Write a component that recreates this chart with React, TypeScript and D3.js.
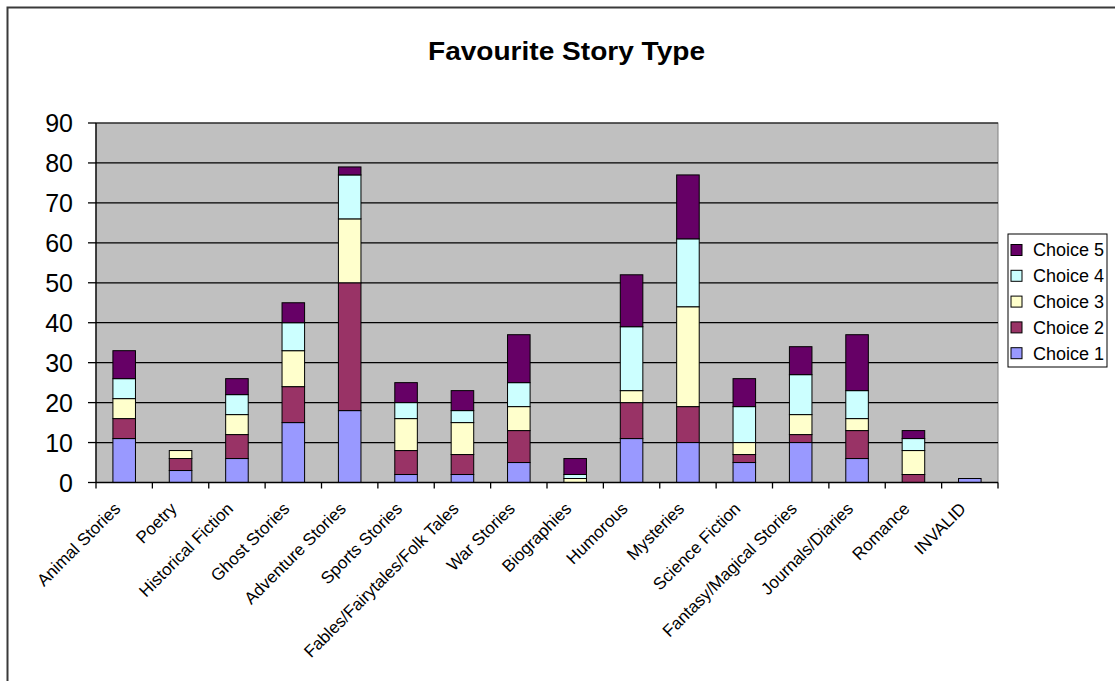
import React from "react";
import * as d3 from "d3";

const categories = [
  "Animal Stories", "Poetry", "Historical Fiction", "Ghost Stories", "Adventure Stories",
  "Sports Stories", "Fables/Fairytales/Folk Tales", "War Stories", "Biographies", "Humorous",
  "Mysteries", "Science Fiction", "Fantasy/Magical Stories", "Journals/Diaries", "Romance", "INVALID",
];
const choice1 = [11, 3, 6, 15, 18, 2, 2, 5, 0, 11, 10, 5, 10, 6, 0, 1];
const choice2 = [5, 3, 6, 9, 32, 6, 5, 8, 0, 9, 9, 2, 2, 7, 2, 0];
const choice3 = [5, 2, 5, 9, 16, 8, 8, 6, 1, 3, 25, 3, 5, 3, 6, 0];
const choice4 = [5, 0, 5, 7, 11, 4, 3, 6, 1, 16, 17, 9, 10, 7, 3, 0];
const choice5 = [7, 0, 4, 5, 2, 5, 5, 12, 4, 13, 16, 7, 7, 14, 2, 0];
const seriesNames = ["Choice 1", "Choice 2", "Choice 3", "Choice 4", "Choice 5"];
const seriesColors = ["#9999FF", "#993366", "#FFFFCC", "#CCFFFF", "#660066"];
const yTicks = [0, 10, 20, 30, 40, 50, 60, 70, 80, 90];
const title = "Favourite Story Type";

const W = 1115;
const H = 681;
const plot = { left: 96, right: 998, top: 123, bottom: 482.5 };
const FONT = "'Liberation Sans', Arial, Helvetica, sans-serif";

export default function App() {
  const seriesArrays = [choice1, choice2, choice3, choice4, choice5];
  const rows = categories.map((c, i) => {
    const r: any = { cat: c };
    seriesNames.forEach((s, k) => (r[s] = seriesArrays[k][i]));
    return r;
  });
  const stacked = d3.stack().keys(seriesNames)(rows);

  const x = d3
    .scaleBand()
    .domain(categories)
    .range([plot.left, plot.right])
    .paddingInner(0.6)
    .paddingOuter(0.3);
  const xb = d3.scaleLinear().domain([0, categories.length]).range([plot.left, plot.right]);
  const y = d3.scaleLinear().domain([0, 90]).range([plot.bottom, plot.top]);

  const legendX = 1008;
  const legendY = 234;
  const legendRow = 25.8;

  return (
    <svg
      width={W}
      height={H}
      style={{ position: "absolute", left: 0, top: 0, display: "block", background: "#fff" }}
      fontFamily={FONT}
    >
      <rect x={7.5} y={7.5} width={1300} height={900} fill="#fff" stroke="#3a3a3a" strokeWidth={2} />
      <text
        x={566.5}
        y={60}
        textAnchor="middle"
        fontSize={25}
        fontWeight="bold"
        textLength={277}
        lengthAdjust="spacingAndGlyphs"
        fill="#000"
      >
        {title}
      </text>

      {/* plot area */}
      <rect
        x={plot.left}
        y={plot.top}
        width={plot.right - plot.left}
        height={plot.bottom - plot.top}
        fill="#C0C0C0"
        stroke="#808080"
        strokeWidth={1}
      />
      {yTicks.slice(1).map((t) => (
        <line
          key={"g" + t}
          x1={plot.left}
          x2={plot.right}
          y1={y(t)}
          y2={y(t)}
          stroke="#000"
          strokeWidth={1.2}
        />
      ))}

      {/* bars */}
      {stacked.map((s, k) => (
        <g key={s.key} fill={seriesColors[k]} stroke="#000" strokeWidth={1}>
          {s.map((d: any, i: number) =>
            d[1] - d[0] > 0 ? (
              <rect
                key={i}
                x={x(categories[i])}
                width={x.bandwidth()}
                y={y(d[1])}
                height={y(d[0]) - y(d[1])}
              />
            ) : null
          )}
        </g>
      ))}

      {/* axes */}
      <line x1={plot.left} x2={plot.left} y1={plot.top} y2={plot.bottom} stroke="#000" strokeWidth={1.3} />
      <line x1={plot.left} x2={plot.right} y1={plot.bottom} y2={plot.bottom} stroke="#000" strokeWidth={1.3} />
      {yTicks.map((t) => (
        <g key={"yt" + t}>
          <line x1={plot.left - 8} x2={plot.left} y1={y(t)} y2={y(t)} stroke="#000" strokeWidth={1.3} />
          <text x={73} y={y(t)} dy="0.36em" textAnchor="end" fontSize={25} fill="#000">
            {t}
          </text>
        </g>
      ))}
      {d3.range(categories.length + 1).map((i) => (
        <line
          key={"xt" + i}
          x1={xb(i)}
          x2={xb(i)}
          y1={plot.bottom}
          y2={plot.bottom + 6}
          stroke="#000"
          strokeWidth={1.3}
        />
      ))}
      {categories.map((c) => {
        const cx = (x(c) as number) + x.bandwidth() / 2;
        return (
          <text
            key={"xl" + c}
            transform={`translate(${cx - 7},${plot.bottom + 23}) rotate(-45)`}
            textAnchor="end"
            dy="0.35em"
            fontSize={17}
            fill="#000"
          >
            {c}
          </text>
        );
      })}

      {/* legend */}
      <rect x={legendX} y={legendY} width={99} height={133} fill="#fff" stroke="#000" strokeWidth={1} />
      {seriesNames
        .map((s, k) => ({ s, k }))
        .reverse()
        .map(({ s, k }, j) => {
          const cy = legendY + 16 + j * legendRow;
          return (
            <g key={"lg" + s}>
              <rect x={legendX + 3} y={cy - 5.5} width={11} height={11} fill={seriesColors[k]} stroke="#000" strokeWidth={1} />
              <text x={legendX + 25} y={cy} dy="0.35em" fontSize={18} fill="#000">
                {s}
              </text>
            </g>
          );
        })}
    </svg>
  );
}
